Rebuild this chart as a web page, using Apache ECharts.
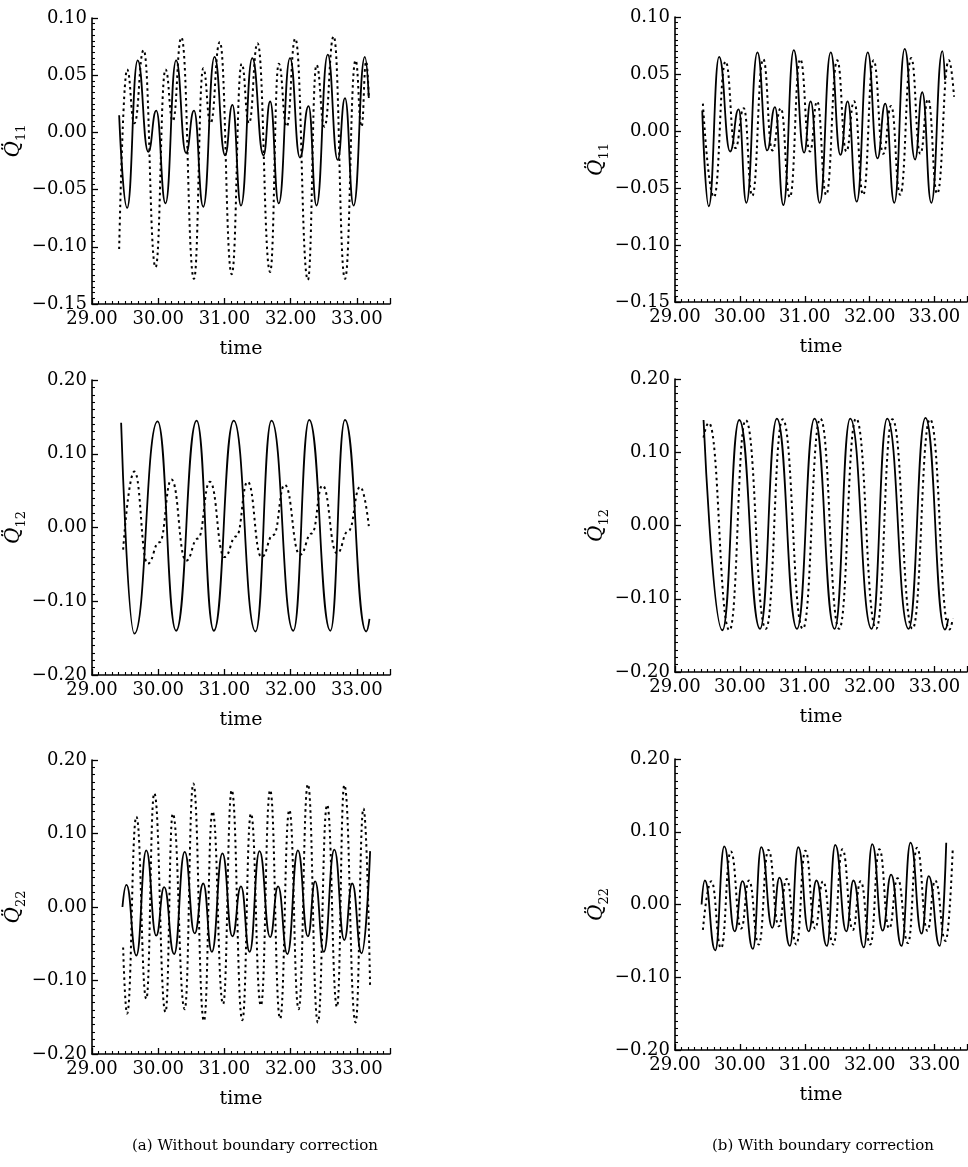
<!DOCTYPE html>
<html>
<head>
<meta charset="utf-8">
<script src="https://cdn.jsdelivr.net/npm/echarts@6/dist/echarts.min.js"></script>
<style>
html, body { margin: 0; padding: 0; background: #fff; }
#main { width: 968px; height: 1167px; }
</style>
</head>
<body>
<div id="main"></div>
<script>
// Q11, without boundary correction
var q11aSolidT = [29.41,29.53,29.69,29.85,29.97,30.11,30.27,30.42,30.54,30.68,30.85,31.01,31.12,31.25,31.42,31.59,31.69,31.82,31.99,32.14,32.27,32.39,32.56,32.71,32.82,32.95,33.12,33.18];
var q11aSolidV = [0.015,-0.066,0.063,-0.017,0.019,-0.062,0.063,-0.018,0.019,-0.065,0.066,-0.020,0.024,-0.064,0.065,-0.020,0.027,-0.062,0.065,-0.022,0.023,-0.064,0.068,-0.024,0.030,-0.064,0.066,0.030];
var q11aDotT = [29.41,29.53,29.64,29.78,29.96,30.11,30.22,30.35,30.54,30.68,30.79,30.93,31.11,31.26,31.37,31.50,31.69,31.82,31.94,32.07,32.26,32.39,32.51,32.65,32.82,32.98,33.07,33.14,33.18];
var q11aDotV = [-0.102,0.055,0.008,0.072,-0.118,0.055,0.010,0.083,-0.128,0.056,0.008,0.079,-0.124,0.060,0.008,0.078,-0.122,0.060,0.005,0.082,-0.129,0.059,0.005,0.084,-0.128,0.063,0.005,0.062,0.030];

// Q11, with boundary correction
var q11bSolidT = [29.42,29.52,29.68,29.85,29.98,30.10,30.27,30.42,30.54,30.67,30.83,30.99,31.09,31.23,31.40,31.55,31.66,31.80,31.97,32.12,32.24,32.38,32.54,32.70,32.81,32.95,33.12,33.16];
var q11bSolidV = [0.018,-0.066,0.065,-0.018,0.019,-0.063,0.069,-0.017,0.021,-0.065,0.071,-0.019,0.026,-0.063,0.069,-0.021,0.026,-0.062,0.069,-0.024,0.024,-0.063,0.072,-0.025,0.034,-0.063,0.070,0.045];
var q11bDotT = [29.43,29.60,29.78,29.93,30.06,30.19,30.36,30.50,30.63,30.77,30.93,31.08,31.19,31.33,31.50,31.64,31.76,31.90,32.06,32.21,32.33,32.47,32.64,32.78,32.90,33.04,33.22,33.30];
var q11bDotV = [0.024,-0.058,0.061,-0.015,0.020,-0.057,0.063,-0.017,0.020,-0.058,0.063,-0.018,0.026,-0.056,0.062,-0.018,0.026,-0.056,0.062,-0.020,0.022,-0.056,0.064,-0.020,0.028,-0.055,0.062,0.030];

// Q12, without boundary correction
var q12aSolidT = [29.44,29.64,29.99,30.27,30.58,30.84,31.14,31.47,31.71,32.04,32.28,32.60,32.82,33.14,33.19];
var q12aSolidV = [0.142,-0.144,0.144,-0.140,0.145,-0.140,0.145,-0.141,0.145,-0.140,0.146,-0.140,0.146,-0.141,-0.124];
var q12aDotT = [29.47,29.64,29.84,30.02,30.20,30.42,30.60,30.78,31.00,31.18,31.35,31.56,31.74,31.91,32.14,32.32,32.48,32.70,32.87,33.05,33.18];
var q12aDotV = [-0.030,0.076,-0.049,-0.020,0.065,-0.045,-0.015,0.062,-0.040,-0.012,0.062,-0.040,-0.010,0.058,-0.037,-0.008,0.057,-0.035,-0.005,0.055,0.002];

// Q12, with boundary correction
var q12bSolidT = [29.44,29.73,29.99,30.31,30.57,30.88,31.15,31.46,31.70,32.03,32.27,32.60,32.86,33.16,33.21];
var q12bSolidV = [0.144,-0.143,0.144,-0.141,0.146,-0.141,0.146,-0.141,0.146,-0.141,0.146,-0.141,0.147,-0.142,-0.127];
var q12bDotT = [29.44,29.52,29.84,30.09,30.40,30.66,30.97,31.24,31.53,31.79,32.10,32.35,32.66,32.93,33.23,33.28];
var q12bDotV = [0.120,0.140,-0.143,0.144,-0.141,0.145,-0.141,0.146,-0.141,0.146,-0.141,0.145,-0.141,0.145,-0.142,-0.127];

// Q22, without boundary correction
var q22aSolidT = [29.46,29.52,29.67,29.82,29.97,30.09,30.24,30.40,30.55,30.68,30.81,30.97,31.12,31.25,31.38,31.53,31.69,31.81,31.95,32.11,32.26,32.37,32.50,32.66,32.81,32.93,33.07,33.20];
var q22aSolidV = [0.000,0.030,-0.066,0.077,-0.039,0.027,-0.064,0.075,-0.036,0.032,-0.061,0.073,-0.040,0.028,-0.061,0.076,-0.041,0.028,-0.064,0.077,-0.040,0.035,-0.061,0.078,-0.045,0.032,-0.063,0.076];
var q22aDotT = [29.47,29.53,29.67,29.82,29.94,30.11,30.22,30.40,30.53,30.69,30.82,30.98,31.11,31.27,31.40,31.55,31.69,31.84,31.98,32.12,32.26,32.41,32.55,32.70,32.81,32.98,33.10,33.20];
var q22aDotV = [-0.055,-0.145,0.123,-0.125,0.155,-0.143,0.127,-0.139,0.168,-0.155,0.130,-0.132,0.159,-0.154,0.127,-0.134,0.159,-0.152,0.132,-0.139,0.167,-0.157,0.139,-0.136,0.166,-0.157,0.134,-0.111];

// Q22, with boundary correction
var q22bSolidT = [29.41,29.46,29.62,29.76,29.92,30.04,30.20,30.33,30.50,30.61,30.77,30.90,31.06,31.18,31.34,31.47,31.64,31.75,31.91,32.04,32.20,32.33,32.49,32.63,32.80,32.91,33.08,33.18];
var q22bSolidV = [0.000,0.033,-0.063,0.080,-0.037,0.032,-0.061,0.079,-0.032,0.037,-0.057,0.079,-0.037,0.033,-0.057,0.082,-0.037,0.033,-0.059,0.083,-0.036,0.041,-0.057,0.085,-0.040,0.039,-0.057,0.085];
var q22bDotT = [29.43,29.56,29.71,29.86,30.02,30.14,30.29,30.44,30.60,30.72,30.87,31.01,31.16,31.28,31.44,31.58,31.74,31.86,32.01,32.15,32.30,32.43,32.59,32.73,32.89,33.01,33.17,33.28];
var q22bDotV = [-0.035,0.032,-0.060,0.073,-0.033,0.033,-0.055,0.075,-0.030,0.035,-0.055,0.074,-0.033,0.032,-0.055,0.076,-0.035,0.032,-0.055,0.076,-0.033,0.036,-0.053,0.078,-0.036,0.033,-0.050,0.076];

var FONT = "DejaVu Serif";

function pairs(t, v) {
  var out = [];
  for (var i = 0; i < t.length; i++) {
    out.push([t[i], v[i]]);
  }
  return out;
}

function fmtY(v) {
  var s = Math.abs(v).toFixed(2);
  return v < -1e-9 ? "\u2212" + s : s;
}

var panels = [
  { grid: { left: 92, top: 18, width: 298, height: 286 }, min: -0.15, max: 0.10, step: 0.05, sub: "11", pad: [0, 0, 0, 40], solid: pairs(q11aSolidT, q11aSolidV), dotted: pairs(q11aDotT, q11aDotV) },
  { grid: { left: 675, top: 17, width: 292, height: 285 }, min: -0.15, max: 0.10, step: 0.05, sub: "11", pad: 0, solid: pairs(q11bSolidT, q11bSolidV), dotted: pairs(q11bDotT, q11bDotV) },
  { grid: { left: 92, top: 380, width: 298, height: 295 }, min: -0.2, max: 0.2, step: 0.1, sub: "12", pad: 0, solid: pairs(q12aSolidT, q12aSolidV), dotted: pairs(q12aDotT, q12aDotV) },
  { grid: { left: 675, top: 379, width: 292, height: 293 }, min: -0.2, max: 0.2, step: 0.1, sub: "12", pad: 0, solid: pairs(q12bSolidT, q12bSolidV), dotted: pairs(q12bDotT, q12bDotV) },
  { grid: { left: 92, top: 760, width: 298, height: 294 }, min: -0.2, max: 0.2, step: 0.1, sub: "22", pad: 0, solid: pairs(q22aSolidT, q22aSolidV), dotted: pairs(q22aDotT, q22aDotV) },
  { grid: { left: 675, top: 759, width: 292, height: 291 }, min: -0.2, max: 0.2, step: 0.1, sub: "22", pad: 0, solid: pairs(q22bSolidT, q22bSolidV), dotted: pairs(q22bDotT, q22bDotV) }
];

var grids = [], xAxes = [], yAxes = [], series = [];
var axisLine = { onZero: false, lineStyle: { color: "#000", width: 1.6 } };
var axisTick = { inside: true, length: 6, lineStyle: { color: "#000", width: 1.3 } };
var minorTick = { show: true, splitNumber: 10, length: 3, lineStyle: { color: "#000", width: 1.1 } };

panels.forEach(function (p, i) {
  var g = p.grid;
  g.outerBoundsMode = "none";
  grids.push(g);
  xAxes.push({
    gridIndex: i,
    type: "value",
    min: 29,
    max: 33.5,
    interval: 1,
    axisLine: axisLine,
    axisTick: axisTick,
    minorTick: minorTick,
    splitLine: { show: false },
    axisLabel: {
      color: "#000", fontFamily: FONT, fontSize: 18, margin: 6,
      formatter: function (v) { return Math.abs(v - Math.round(v)) < 1e-6 ? v.toFixed(2) : ""; }
    },
    name: "time",
    nameLocation: "middle",
    nameGap: 36,
    nameTextStyle: { color: "#000", fontFamily: FONT, fontSize: 19 }
  });
  yAxes.push({
    gridIndex: i,
    type: "value",
    min: p.min,
    max: p.max,
    interval: p.step,
    axisLine: axisLine,
    axisTick: axisTick,
    minorTick: minorTick,
    splitLine: { show: false },
    axisLabel: { color: "#000", fontFamily: FONT, fontSize: 18, margin: 5, formatter: fmtY },
    name: "{q|Q\u0308}{s|" + p.sub + "}",
    nameLocation: "middle",
    nameRotate: 90,
    nameGap: 58,
    nameTextStyle: {
      color: "#000",
      padding: p.pad,
      rich: {
        q: { fontFamily: FONT, fontStyle: "italic", fontSize: 20, lineHeight: 28, verticalAlign: "middle", color: "#000" },
        s: { fontFamily: FONT, fontSize: 13, lineHeight: 13, verticalAlign: "bottom", color: "#000" }
      }
    }
  });
  series.push({
    type: "line", xAxisIndex: i, yAxisIndex: i,
    data: p.solid, symbol: "none", smooth: 0.5, smoothMonotone: "x",
    lineStyle: { color: "#000", width: 1.8 }
  });
  series.push({
    type: "line", xAxisIndex: i, yAxisIndex: i,
    data: p.dotted, symbol: "none", smooth: 0.5, smoothMonotone: "x",
    lineStyle: { color: "#000", width: 2, type: [2.5, 3.5] }
  });
});

var chart = echarts.init(document.getElementById("main"));
chart.setOption({
  backgroundColor: "#fff",
  animation: false,
  title: [
    { text: "(a) Without boundary correction", left: 250, top: 1134, textAlign: "center",
      textStyle: { fontFamily: FONT, fontSize: 15, fontWeight: "normal", color: "#000" } },
    { text: "(b) With boundary correction", left: 818, top: 1134, textAlign: "center",
      textStyle: { fontFamily: FONT, fontSize: 15, fontWeight: "normal", color: "#000" } }
  ],
  grid: grids,
  xAxis: xAxes,
  yAxis: yAxes,
  series: series
});
</script>
</body>
</html>
